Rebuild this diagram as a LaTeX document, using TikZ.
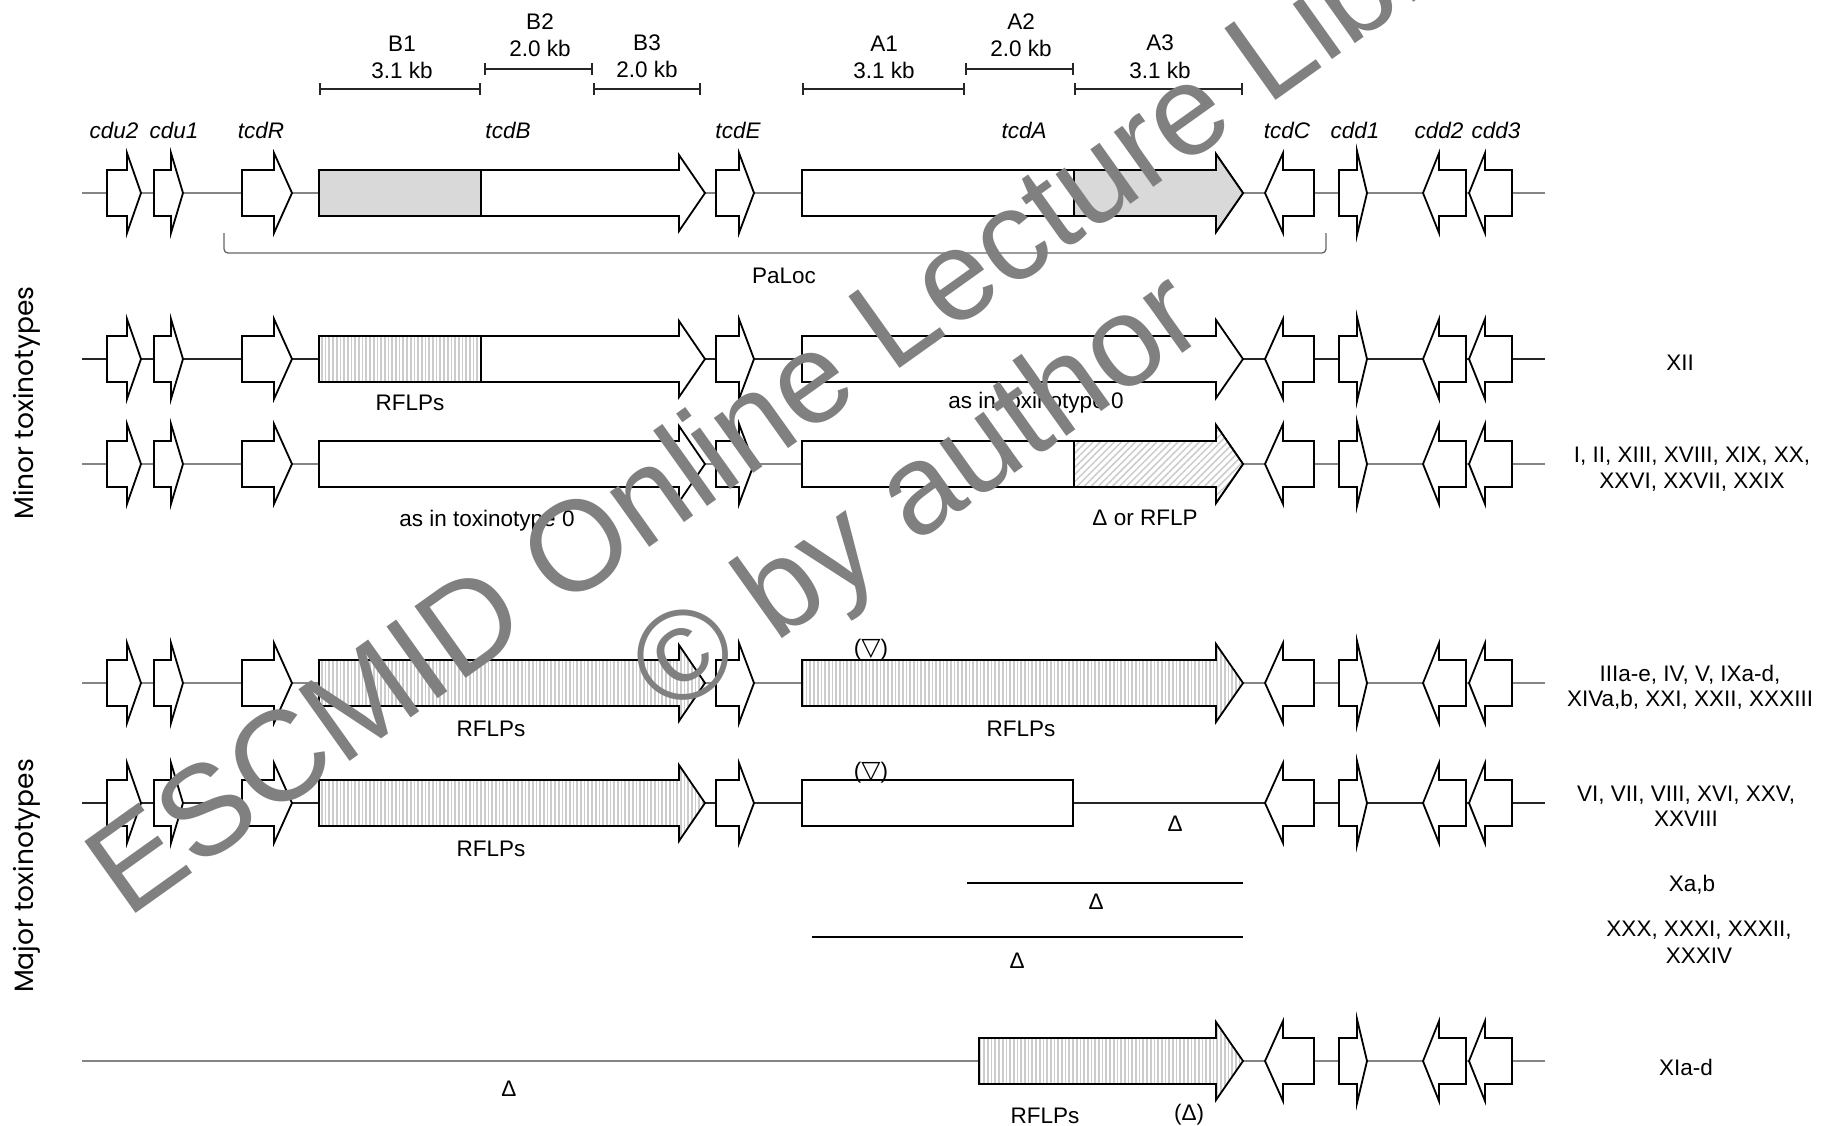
\documentclass[tikz,border=0pt]{standalone}
\usepackage{fontspec}
\setmainfont{Liberation Sans}
\newfontfamily\symfont{DejaVu Sans}
\newfontfamily\sidefont{Poppins}
\usetikzlibrary{patterns.meta,arrows.meta}
\definecolor{basegray}{gray}{0.52}
\definecolor{lightfill}{gray}{0.85}
\definecolor{hatchgray}{gray}{0.80}
\definecolor{wmgray}{gray}{0.50}
\newcommand\labfont{\fontsize{22.5pt}{27pt}\selectfont}
\tikzset{
  outl/.style={draw=black, line width=1.8pt, line join=miter},
  gene/.style={outl, fill=white},
  solidpart/.style={outl, fill=lightfill},
  vhatch/.style={outl, preaction={fill=white}, pattern={Lines[angle=90,distance=3.7pt,line width=1.7pt]}, pattern color=hatchgray},
  dhatch/.style={outl, preaction={fill=white}, pattern={Lines[angle=45,distance=5pt,line width=1.5pt]}, pattern color=hatchgray},
  chrom/.style={draw=basegray, line width=1.8pt},
  chromk/.style={draw=black!85, line width=1.5pt},
  dline/.style={draw=black, line width=1.6pt},
  sbar/.style={draw=black!85, line width=1.8pt, {Bar[width=12pt]}-{Bar[width=12pt]}},
  bracket/.style={draw=black!60, line width=1.3pt, rounded corners=4pt},
  lab/.style={font=\labfont, inner sep=0pt, text height=16pt, text depth=0pt},
  glab/.style={lab, font=\labfont\itshape},
  side/.style={font=\sidefont\fontsize{26.5pt}{30pt}\selectfont, inner sep=0pt, rotate=90},
  wm/.style={font=\fontsize{128pt}{132pt}\selectfont, text=wmgray, inner sep=0pt, rotate=35.5, anchor=base west}
}
% right-pointing gene: [style]{x0}{head base}{tip}{y}{head half-height}
\newcommand\geneR[6][gene]{\path[#1] (#2,#5-23) -- (#3,#5-23) -- (#3,#5-#6) -- (#4,#5) -- (#3,#5+#6) -- (#3,#5+23) -- (#2,#5+23) -- cycle;}
% left-pointing gene: [style]{tip}{head base}{x1}{y}{head half-height}
\newcommand\geneL[6][gene]{\path[#1] (#4,#5-23) -- (#3,#5-23) -- (#3,#5-#6) -- (#2,#5) -- (#3,#5+#6) -- (#3,#5+23) -- (#4,#5+23) -- cycle;}
\newcommand\leftgenes[1]{%
  \geneR{107}{127}{141}{#1}{40}%
  \geneR{154}{171}{183}{#1}{40}%
  \geneR{242}{274}{292}{#1}{40}}
\newcommand\genetcdE[1]{\geneR{716}{739}{754}{#1}{40}}
\newcommand\rightgenes[1]{%
  \geneL{1265}{1283}{1314}{#1}{40}%
  \geneR{1339}{1357}{1367}{#1}{42}%
  \geneL{1423}{1439}{1466}{#1}{40}%
  \geneL{1469}{1485}{1512}{#1}{40}}
\begin{document}
\begin{tikzpicture}[x=1pt,y=-1pt]
\useasboundingbox (0,0) rectangle (1827,1125);
\fill[white] (0,0) rectangle (1827,1125);
\clip (0,0) rectangle (1827,1125);

% ---------- scale bars ----------
\draw[sbar] (319,89) -- (481,89);
\draw[sbar] (484,69) -- (593,69);
\draw[sbar] (593,89) -- (701,89);
\draw[sbar] (802,89) -- (965,89);
\draw[sbar] (965,69) -- (1074,69);
\draw[sbar] (1074,89) -- (1243,89);
\node[lab] (tB1) at (402,43) {B1};
\node[lab] (kB1) at (402,70) {3.1 kb};
\node[lab] (tB2) at (540,21) {B2};
\node[lab] (kB2) at (540,48) {2.0 kb};
\node[lab] (tB3) at (647,42) {B3};
\node[lab] (kB3) at (647,69) {2.0 kb};
\node[lab] (tA1) at (884,43) {A1};
\node[lab] (kA1) at (884,70) {3.1 kb};
\node[lab] (tA2) at (1021,21) {A2};
\node[lab] (kA2) at (1021,48) {2.0 kb};
\node[lab] (tA3) at (1160,42) {A3};
\node[lab] (kA3) at (1160,70) {3.1 kb};

% ---------- gene names ----------
\node[glab] (ncdu2) at (114,130) {cdu2};
\node[glab] (ncdu1) at (174,130) {cdu1};
\node[glab] (ntcdR) at (261,130) {tcdR};
\node[glab] (ntcdB) at (508,130) {tcdB};
\node[glab] (ntcdE) at (738,130) {tcdE};
\node[glab] (ntcdA) at (1024,130) {tcdA};
\node[glab] (ntcdC) at (1287,130) {tcdC};
\node[glab] (ncdd1) at (1355,130) {cdd1};
\node[glab] (ncdd2) at (1439,130) {cdd2};
\node[glab] (ncdd3) at (1496,130) {cdd3};

% ---------- row 0 (toxinotype 0) ----------
\draw[chrom] (82,193) -- (1545,193);
\leftgenes{193}
\geneR{319}{679}{705}{193}{38}
\path[solidpart] (319,170) rectangle (481,216);
\genetcdE{193}
\geneR{802}{1216}{1243}{193}{39}
\geneR[solidpart]{1074}{1216}{1243}{193}{39}
\rightgenes{193}
\draw[bracket] (224,233) -- (224,253) -- (1326,253) -- (1326,233);
\node[lab] (paloc) at (784,275) {PaLoc};

% ---------- row 1 ----------
\draw[chromk] (82,359) -- (1545,359);
\leftgenes{359}
\geneR{319}{679}{705}{359}{38}
\path[vhatch] (319,336) rectangle (481,382);
\genetcdE{359}
\geneR{802}{1216}{1243}{359}{39}
\rightgenes{359}
\node[lab] (r1a) at (410,402) {RFLPs};
\node[lab] (r1b) at (1036,400) {as in toxinotype 0};
\node[lab] (r1t) at (1680,362) {XII};

% ---------- row 2 ----------
\draw[chrom] (82,464) -- (1545,464);
\leftgenes{464}
\geneR{319}{679}{705}{464}{38}
\genetcdE{464}
\geneR{802}{1216}{1243}{464}{39}
\geneR[dhatch]{1074}{1216}{1243}{464}{39}
\rightgenes{464}
\node[lab] (r2a) at (487,518) {as in toxinotype 0};
\node[lab] (r2b) at (1145,517) {Δ or RFLP};
\node[lab] (r2t1) at (1692,454) {I, II, XIII, XVIII, XIX, XX,};
\node[lab] (r2t2) at (1692,480) {XXVI, XXVII, XXIX};

% ---------- row 3 ----------
\draw[chrom] (82,683) -- (1545,683);
\leftgenes{683}
\geneR[vhatch]{319}{679}{705}{683}{38}
\genetcdE{683}
\geneR[vhatch]{802}{1216}{1243}{683}{39}
\rightgenes{683}
\node[lab] (r3i) at (871,647) {({\symfont\fontsize{25pt}{27pt}\selectfont ▽})};
\node[lab] (r3a) at (491,728) {RFLPs};
\node[lab] (r3b) at (1021,728) {RFLPs};
\node[lab] (r3t1) at (1690,673) {IIIa-e, IV, V, IXa-d,};
\node[lab] (r3t2) at (1690,698) {XIVa,b, XXI, XXII, XXXIII};

% ---------- row 4 ----------
\draw[chromk] (82,803) -- (1545,803);
\leftgenes{803}
\geneR[vhatch]{319}{679}{705}{803}{38}
\genetcdE{803}
\path[gene] (802,780) rectangle (1073,826);
\rightgenes{803}
\node[lab] (r4i) at (871,770) {({\symfont\fontsize{25pt}{27pt}\selectfont ▽})};
\node[lab] (r4a) at (491,848) {RFLPs};
\node[lab] (r4d) at (1175,823) {Δ};
\node[lab] (r4t1) at (1686,793) {VI, VII, VIII, XVI, XXV,};
\node[lab] (r4t2) at (1686,818) {XXVIII};

% ---------- row 5 ----------
\coordinate (r5s) at (967,883);
\coordinate (r5e) at (1243,883);
\draw[dline] (r5s) -- (r5e);
\node[lab] (r5d) at (1096,901) {Δ};
\node[lab] (r5t) at (1692,883) {Xa,b};

% ---------- row 6 ----------
\coordinate (r6s) at (812,937);
\coordinate (r6e) at (1243,937);
\draw[dline] (r6s) -- (r6e);
\node[lab] (r6d) at (1017,960) {Δ};
\node[lab] (r6t1) at (1699,928) {XXX, XXXI, XXXII,};
\node[lab] (r6t2) at (1699,955) {XXXIV};

% ---------- row 7 ----------
\draw[chrom] (82,1061) -- (1545,1061);
\geneR[vhatch]{979}{1216}{1243}{1061}{39}
\rightgenes{1061}
\node[lab] (r7d) at (509,1088) {Δ};
\node[lab] (r7a) at (1045,1115) {RFLPs};
\node[lab] (r7b) at (1189,1112) {(Δ)};
\node[lab] (r7t) at (1686,1067) {XIa-d};

% ---------- side labels ----------
\node[side] (minor) at (27,403) {Minor toxinotypes};
\node[side] (major) at (27,876) {Major toxinotypes};

% ---------- watermark ----------
\node[wm] (wm1) at (127,920) {ESCMID Online Lecture Library};
\node[wm] (wm2) at (670,719) {© by author};
\end{tikzpicture}
\end{document}
